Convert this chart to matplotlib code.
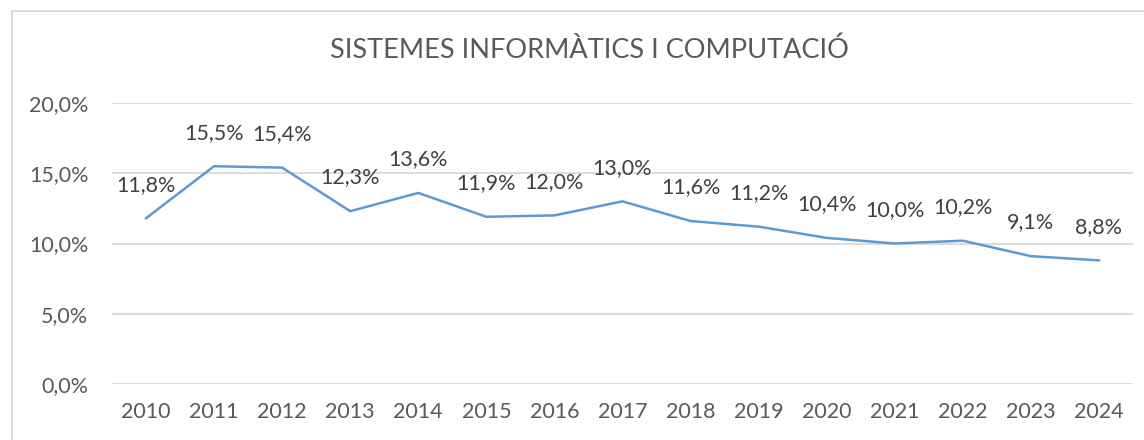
import matplotlib
matplotlib.use("Agg")
import matplotlib.pyplot as plt
from matplotlib.lines import Line2D

# dades
anys = ["2010", "2011", "2012", "2013", "2014", "2015", "2016", "2017",
        "2018", "2019", "2020", "2021", "2022", "2023", "2024"]
valors = [11.8, 15.5, 15.4, 12.3, 13.6, 11.9, 12.0, 13.0,
          11.6, 11.2, 10.4, 10.0, 10.2, 9.1, 8.8]
yticks = [0, 5, 10, 15, 20]
titol = "SISTEMES INFORMÀTICS I COMPUTACIÓ"

plt.rcParams['font.family'] = ['Lato', 'DejaVu Sans']
gris = "#595959"

W, H = 1144, 440
fig = plt.figure(figsize=(W / 100, H / 100), dpi=100)
# zona del grafic (pixels)
x0, x1 = 112, 1133
y_top, y_bot = 103, 384
ax = fig.add_axes([x0 / W, 1 - y_bot / H, (x1 - x0) / W, (y_bot - y_top) / H])

x = list(range(len(anys)))
ax.plot(x, valors, color="#5B9BD5", lw=1.8, solid_joinstyle="round")

# etiquetes de dades
for xi, v in zip(x, valors):
    txt = ("%.1f" % v).replace(".", ",") + "%"
    ax.annotate(txt, (xi, v), xytext=(0, 17), textcoords="offset points",
                ha="center", va="bottom", fontsize=15.5, color="#404040")

ax.set_xlim(-0.5, len(anys) - 0.5)
ax.set_ylim(0, 20)
ax.set_yticks(yticks)
ax.set_yticklabels([("%.1f" % t).replace(".", ",") + "%" for t in yticks])
ax.set_xticks(x)
ax.set_xticklabels(anys)
ax.tick_params(axis="both", length=0, labelsize=15.5, labelcolor=gris)
ax.tick_params(axis="x", pad=13)
ax.tick_params(axis="y", pad=17)
ax.grid(axis="y", color="#D9D9D9", lw=1.3)
ax.set_axisbelow(True)
for s in ax.spines.values():
    s.set_visible(False)

fig.text(589 / W, 1 - 50 / H, titol, ha="center", va="center",
         fontsize=19.5, color=gris)

# vora del grafic
fig.add_artist(Line2D([12 / W, 12 / W], [0, 1 - 11 / H], color="#D9D9D9", lw=1.3))
fig.add_artist(Line2D([12 / W, 1], [1 - 11 / H, 1 - 11 / H], color="#D9D9D9", lw=1.3))

fig.savefig("out.png", dpi=100, facecolor="white")
